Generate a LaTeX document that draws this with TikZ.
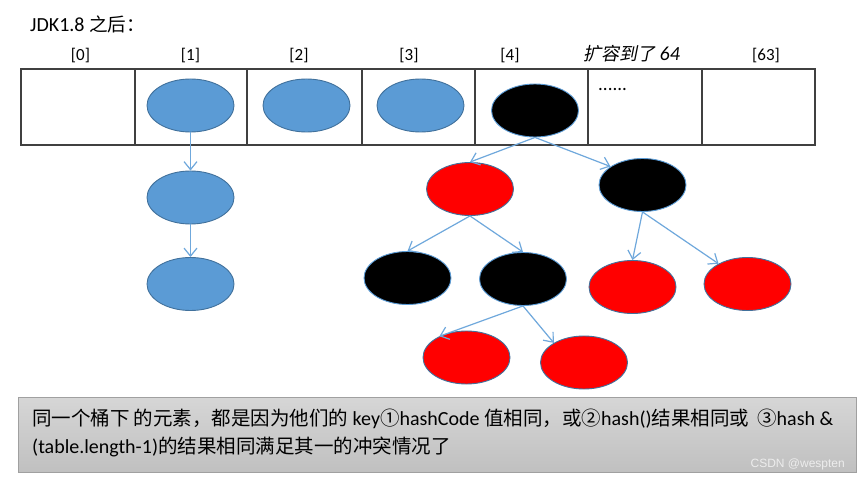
\documentclass[tikz,border=0pt]{standalone}
\usepackage{fontspec}
\setmainfont{Carlito}
\newfontfamily\cjk{Noto Sans CJK SC}[Scale=0.93]
\newfontfamily\cjkb{Noto Sans CJK SC}[Scale=0.975]
\newfontfamily\cjkit{Noto Sans CJK SC}[Scale=0.9,FakeSlant=0.2]
\newfontfamily\wmfont{Liberation Sans}
\usetikzlibrary{arrows.meta,shapes.geometric}
\definecolor{nblue}{HTML}{5B9BD5}
\definecolor{nborder}{HTML}{41719C}
\definecolor{lblue}{HTML}{6FA8DC}
\definecolor{tablegray}{HTML}{404040}
\definecolor{boxtop}{HTML}{D6D6D6}
\definecolor{boxbottom}{HTML}{C0C0C0}
\definecolor{boxedge}{HTML}{A0A0A0}
\definecolor{wmgray}{HTML}{EDEDED}
\begin{document}
\begin{tikzpicture}[x=1pt,y=-1pt,
  cell/.style={draw=tablegray,line width=1.2pt,inner sep=0pt,minimum height=76pt},
  nd/.style={ellipse,inner sep=0pt,minimum width=87pt,minimum height=53pt,line width=0.9pt},
  bluend/.style={nd,fill=nblue,draw=nborder},
  rednd/.style={nd,fill=red,draw=nborder},
  blacknd/.style={nd,fill=black,draw=nblue},
  link/.style={draw=lblue,line width=1.2pt,-{Straight Barb[length=8pt,width=13pt]}},
  lab/.style={inner sep=0pt,anchor=base,font=\fontsize{17}{20}\selectfont}
]
\useasboundingbox[fill=white] (0,0) rectangle (862,478);

% title
\node[inner sep=0pt,anchor=base west,font=\fontsize{20}{24}\selectfont] (title) at (30,32) {JDK1.8 {\cjk 之后：}};

% table cells
\node[cell,minimum width=114pt] (c0) at (78,107) {};
\node[cell,minimum width=112pt] (c1) at (191,107) {};
\node[cell,minimum width=115pt] (c2) at (304.5,107) {};
\node[cell,minimum width=113pt] (c3) at (418.5,107) {};
\node[cell,minimum width=113pt] (c4) at (531.5,107) {};
\node[cell,minimum width=114pt] (c5) at (645,107) {};
\node[cell,minimum width=113pt] (c6) at (758.5,107) {};

% index labels
\node[lab] (t0) at (80.5,61) {[0]};
\node[lab] (t1) at (190.5,61) {[1]};
\node[lab] (t2) at (299,61) {[2]};
\node[lab] (t3) at (409,61) {[3]};
\node[lab] (t4) at (510,61) {[4]};
\node[lab,font=\fontsize{20}{24}\selectfont] (exp) at (631.5,61) {{\cjkit 扩容到了} \textit{64}};
\node[lab] (t63) at (766,61) {[63]};
\node[inner sep=0pt,anchor=base west,font=\fontsize{19}{22}\selectfont] (dots) at (598,91) {......};

% ellipses
\node[bluend] (b1) at (190.5,105.5) {};
\node[bluend] (b2) at (306.5,105.5) {};
\node[bluend] (b3) at (420.5,105.5) {};
\node[blacknd] (root) at (535,110.5) {};
\node[bluend] (l1) at (190.5,197.5) {};
\node[bluend] (l2) at (190.5,284) {};
\node[rednd] (r1) at (470,189) {};
\node[blacknd] (k1) at (642.5,185) {};
\node[blacknd] (k2) at (407.5,278) {};
\node[blacknd] (k3) at (523,279) {};
\node[rednd] (r2) at (632.5,287) {};
\node[rednd] (r3) at (747.5,284) {};
\node[rednd] (r4) at (466.5,357.5) {};
\node[rednd] (r5) at (584,362.5) {};

% connectors
\draw[link] (b1.south) -- (l1.north);
\draw[link] (l1.south) -- (l2.north);
\draw[link] (root.south) -- (r1.north);
\draw[link] (root.south) -- (k1.150);
\draw[link] (r1.south) -- (k2.north);
\draw[link] (r1.south) -- (k3.north);
\draw[link] (k1.south) -- (r2.north);
\draw[link] (k1.south) -- (r3.145);
\draw[link] (k3.south) -- (r4.142);
\draw[link] (k3.south) -- (r5.147);

% note box
\node[draw=boxedge,line width=0.8pt,top color=boxtop,bottom color=boxbottom,minimum width=838pt,minimum height=75pt,inner sep=0pt] (note) at (437,434.5) {};
\node[inner sep=0pt,anchor=base west,font=\fontsize{20}{28}\selectfont] (line1) at (32,425)
  {{\cjkb 同一个桶下\hspace{4pt}的元素，都是因为他们的} key{\cjkb ①}hashCode {\cjkb 值相同，或②}hash(){\cjkb 结果相同或}\hspace{8pt}{\cjkb ③}hash \&};
\node[inner sep=0pt,anchor=base west,font=\fontsize{20}{28}\selectfont] (line2) at (32,453)
  {(table.length-1){\cjkb 的结果相同满足其一的冲突情况了}};
\node[inner sep=0pt,anchor=base east,font=\wmfont\fontsize{12}{14}\selectfont,text=wmgray] (wm) at (845,467) {CSDN @wespten};
\end{tikzpicture}
\end{document}
